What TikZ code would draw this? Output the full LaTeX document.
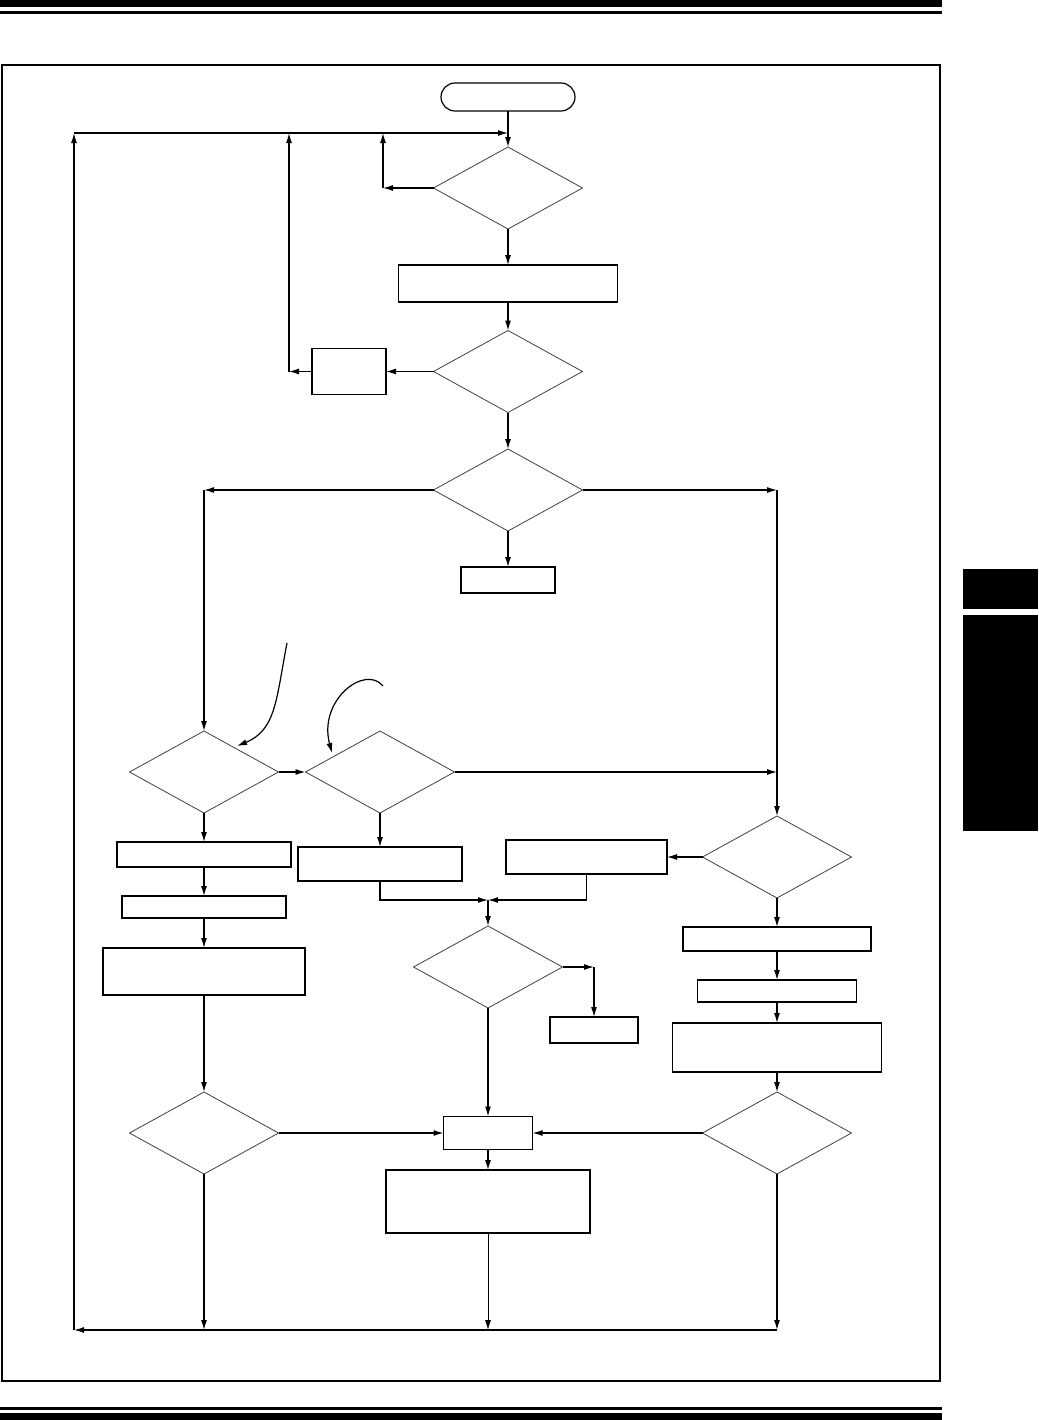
\documentclass[tikz,border=0pt]{standalone}
\usetikzlibrary{arrows.meta,shapes.geometric}
\begin{document}
\begin{tikzpicture}[x=0.5pt,y=-0.5pt,
  box/.style={draw, line width=0.6pt, inner sep=0pt, outer sep=0pt},
  dec/.style={diamond, draw=black!75, line width=0.4pt, inner sep=0pt, outer sep=0pt,
              minimum width=149*0.5pt, minimum height=82*0.5pt},
  arr/.style={-{Latex[length=5pt,width=3pt]}, line width=0.6pt},
  ln/.style={line width=0.6pt},
  bar/.style={fill=black, draw=none}]
\useasboundingbox (0,0) rectangle (1039,1420);
% page decoration
\fill[bar] (0,0) rectangle (942,7);
\fill[bar] (0,10.5) rectangle (942,14);
\fill[bar] (0,1407) rectangle (942,1410);
\fill[bar] (0,1413) rectangle (942,1420);
\fill[bar] (963,569) rectangle (1038,609);
\fill[bar] (963,615) rectangle (1038,831);
\draw[line width=0.75pt] (2,65) rectangle (940,1381);

% nodes
\node[box, rounded corners=7pt, minimum width=134*0.5pt, minimum height=28*0.5pt] (start) at (508,97) {};
\node[dec] (d1) at (508,188) {};
\node[box, minimum width=219*0.5pt, minimum height=37*0.5pt] (a) at (508,283.5) {};
\node[dec] (d2) at (508,371.5) {};
\node[box, minimum width=74*0.5pt, minimum height=46*0.5pt] (b) at (349,371.5) {};
\node[dec] (d3) at (508,490) {};
\node[box, minimum width=94*0.5pt, minimum height=26*0.5pt] (c) at (508,580) {};
\node[dec] (d4) at (204,772) {};
\node[dec] (d5) at (380,772) {};
\node[box, minimum width=174*0.5pt, minimum height=25*0.5pt] (bd) at (204,854.5) {};
\node[box, minimum width=164*0.5pt, minimum height=22*0.5pt] (be) at (204,907) {};
\node[box, minimum width=202*0.5pt, minimum height=47*0.5pt] (bf) at (204,971.5) {};
\node[box, minimum width=164*0.5pt, minimum height=34*0.5pt] (bg) at (380,864) {};
\node[box, minimum width=161*0.5pt, minimum height=34*0.5pt] (bh) at (586.5,857) {};
\node[dec] (d7) at (777,857) {};
\node[box, minimum width=188*0.5pt, minimum height=24*0.5pt] (bi) at (777,939) {};
\node[box, minimum width=159*0.5pt, minimum height=22*0.5pt] (bj) at (777,991) {};
\node[box, minimum width=209*0.5pt, minimum height=49*0.5pt] (bk) at (777,1047.5) {};
\node[dec] (d6) at (488,967) {};
\node[box, minimum width=88*0.5pt, minimum height=26*0.5pt] (bl) at (594,1030) {};
\node[box, minimum width=89*0.5pt, minimum height=33*0.5pt] (bm) at (488,1133) {};
\node[dec] (d8) at (204,1133) {};
\node[dec] (d9) at (777,1133) {};
\node[box, minimum width=204*0.5pt, minimum height=63*0.5pt] (bn) at (488,1201.5) {};

% junction coordinates
\coordinate (top) at (508,133);
\coordinate (lp) at (74,133);
\coordinate (lb) at (74,1330);
\coordinate (j1) at (383,188);
\coordinate (j1t) at (383,133);
\coordinate (j2) at (289,371.5);
\coordinate (j2t) at (289,133);
\coordinate (l3) at (204,490);
\coordinate (r3) at (777,490);
\coordinate (r5) at (777,772);
\coordinate (g1) at (380,900);
\coordinate (mj) at (488,900);
\coordinate (h1) at (586.5,900);
\coordinate (r6) at (594,967);
\coordinate (b8) at (204,1330);
\coordinate (bnn) at (488,1330);
\coordinate (b9) at (777,1330);
\coordinate (n1s) at (287,643);
\coordinate (n1e) at (237,746);
\coordinate (n2s) at (383,686);
\coordinate (n2e) at (332,753);

% connectors
\draw[arr] (start.south) -- (d1.north);
\draw[arr] (lp) -- (top);
\draw[arr] (lb) -- (lp);
\draw[arr] (d1.west) -- (j1);
\draw[arr] (j1) -- (j1t);
\draw[arr] (d1.south) -- (a.north);
\draw[arr] (a.south) -- (d2.north);
\draw[arr] (d2.west) -- (b.east);
\draw[arr] (b.west) -- (j2);
\draw[arr] (j2) -- (j2t);
\draw[arr] (d2.south) -- (d3.north);
\draw[arr] (d3.south) -- (c.north);
\draw[arr] (d3.west) -- (l3);
\draw[arr] (l3) -- (d4.north);
\draw[arr] (d3.east) -- (r3);
\draw[arr] (r3) -- (d7.north);
\draw[arr] (d4.east) -- (d5.west);
\draw[arr] (d5.east) -- (r5);
\draw[arr] (d4.south) -- (bd.north);
\draw[arr] (bd.south) -- (be.north);
\draw[arr] (be.south) -- (bf.north);
\draw[arr] (bf.south) -- (d8.north);
\draw[arr] (d5.south) -- (bg.north);
\draw[arr] (bg.south) -- (g1) -- (mj);
\draw[arr] (mj) -- (d6.north);
\draw[arr] (d7.west) -- (bh.east);
\draw[arr] (bh.south) -- (h1) -- (mj);
\draw[arr] (d7.south) -- (bi.north);
\draw[arr] (bi.south) -- (bj.north);
\draw[arr] (bj.south) -- (bk.north);
\draw[arr] (bk.south) -- (d9.north);
\draw[arr] (d6.east) -- (r6);
\draw[arr] (r6) -- (bl.north);
\draw[arr] (d6.south) -- (bm.north);
\draw[arr] (d8.east) -- (bm.west);
\draw[arr] (d9.west) -- (bm.east);
\draw[arr] (bm.south) -- (bn.north);
\draw[arr] (d8.south) -- (b8);
\draw[arr, line width=0.4pt] (bn.south) -- (bnn);
\draw[arr] (d9.south) -- (b9);
\draw[arr] (b9) -- (lb);
% annotation curves
\draw[arr] (n1s) .. controls (276,700) and (276,730) .. (n1e);
\draw[arr] (n2s) .. controls (365,664) and (318,700) .. (n2e);
\end{tikzpicture}
\end{document}
